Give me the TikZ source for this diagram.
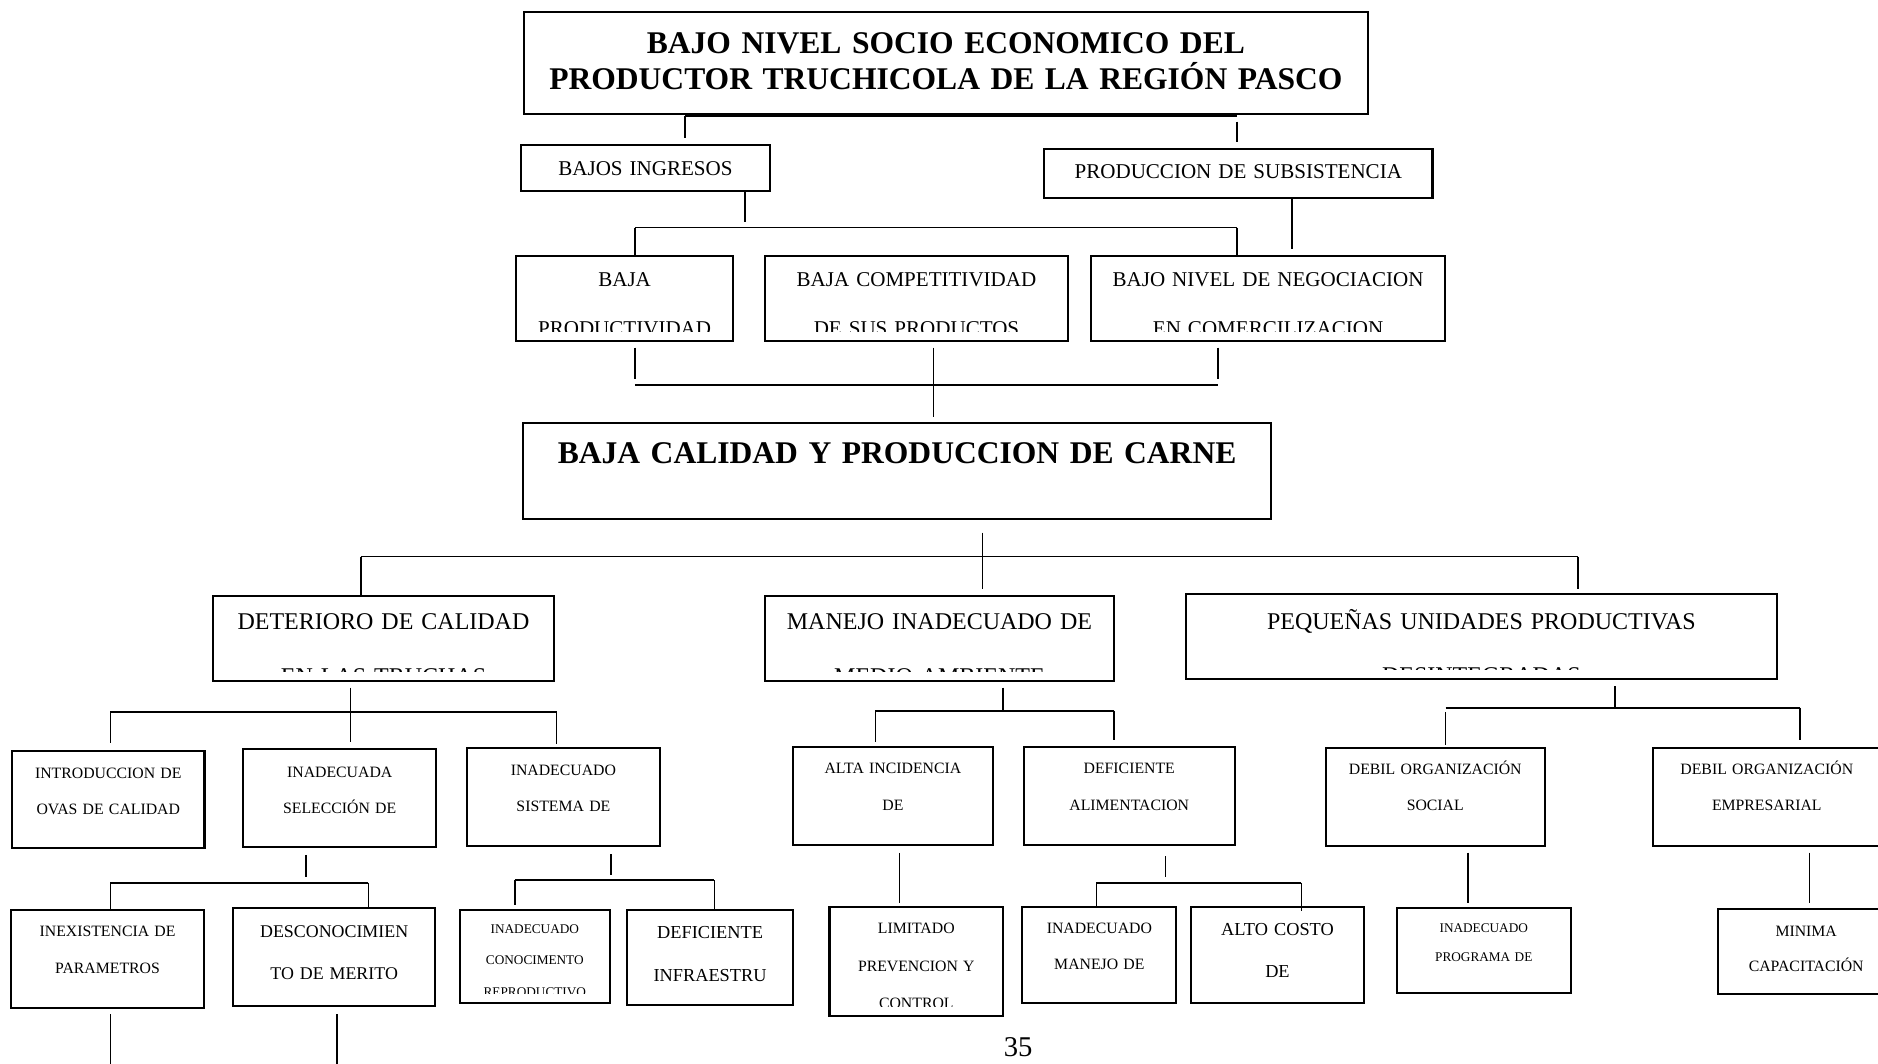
\documentclass[tikz,border=0pt]{standalone}
\usepackage{fontspec}
\setmainfont{Liberation Serif}
\usetikzlibrary{fit,calc}

\begin{document}
\begin{tikzpicture}
[x=0.02cm,y=-0.02cm,%
  cbox/.style n args={3}{draw,line width=1pt,inner sep=0pt,%
    path picture={%
      \clip ([yshift=4.5pt]path picture bounding box.south west)
        rectangle (path picture bounding box.north east);
      \node[anchor=base,inner sep=0pt,text width=20cm,align=center,font=#1\selectfont]
        at ($(path picture bounding box.north)+(0,#2)$) {#3};
    }},%
  conn/.style={line width=0.75pt}]
\useasboundingbox (0,0) rectangle (1568,888);

% effects
\node[cbox={\fontsize{15}{17.1}\bfseries}{34.8}{BAJO NIVEL SOCIO ECONOMICO DEL\\PRODUCTOR TRUCHICOLA DE LA REGIÓN PASCO},
  fit={(437.5,9.7)(1142,95.2)}] (top) {};
\node[cbox={\fontsize{10}{12}}{25.8}{BAJOS INGRESOS}, fit={(435.2,121.1)(642.7,159.2)}] (ingresos) {};
\node[cbox={\fontsize{10}{12}}{24.5}{PRODUCCION DE SUBSISTENCIA}, fit={(871.8,124.4)(1196,165)}] (subsist) {};
\node[cbox={\fontsize{10}{23.2}}{25.7}{BAJA\\PRODUCTIVIDAD}, fit={(430.9,213.7)(612.1,284.7)}] (product) {};
\node[cbox={\fontsize{10}{23.2}}{25.7}{BAJA COMPETITIVIDAD\\DE SUS PRODUCTOS}, fit={(638.4,213.7)(892,284.7)}] (compet) {};
\node[cbox={\fontsize{10}{23.2}}{25.7}{BAJO NIVEL DE NEGOCIACION\\EN COMERCILIZACION}, fit={(911,213.7)(1206.5,284.7)}] (negoc) {};

% central problem
\node[cbox={\fontsize{15}{18}\bfseries}{33.4}{BAJA CALIDAD Y PRODUCCION DE CARNE}, fit={(436.8,353.5)(1061.3,433.6)}] (calidad) {};

% causes
\node[cbox={\fontsize{11.4}{26.1}}{28.1}{DETERIORO DE CALIDAD\\EN LAS TRUCHAS}, fit={(178.2,497.4)(462.2,568.3)}] (deterioro) {};
\node[cbox={\fontsize{11.4}{26.1}}{27.9}{MANEJO INADECUADO DE\\MEDIO AMBIENTE}, fit={(639,497.6)(929.8,568.3)}] (manejo) {};
\node[cbox={\fontsize{11.4}{25.5}}{29.5}{PEQUEÑAS UNIDADES PRODUCTIVAS\\DESINTEGRADAS}, fit={(990,496)(1483.7,567.2)}] (pequenas) {};

\node[cbox={\fontsize{7.5}{17}}{23.1}{INTRODUCCION DE\\OVAS DE CALIDAD}, fit={(10.1,626.8)(170.7,708.3)}] (ovas) {};
\node[cbox={\fontsize{7.5}{17}}{23.4}{INADECUADA\\SELECCIÓN DE}, fit={(203.1,625.6)(364.2,707.5)}] (seleccion) {};
\node[cbox={\fontsize{7.5}{17.5}}{22.9}{INADECUADO\\SISTEMA DE}, fit={(389.9,624.2)(550.9,706.4)}] (sistema) {};
\node[cbox={\fontsize{7.5}{17.4}}{22.2}{ALTA INCIDENCIA\\DE}, fit={(662,624)(829,705.5)}] (incidencia) {};
\node[cbox={\fontsize{7.5}{17.4}}{22.2}{DEFICIENTE\\ALIMENTACION}, fit={(854.7,624)(1031,705.5)}] (aliment) {};
\node[cbox={\fontsize{7.5}{17.2}}{22.2}{DEBIL ORGANIZACIÓN\\SOCIAL}, fit={(1107,624.3)(1289.7,706.1)}] (social) {};
\node[cbox={\fontsize{7.5}{17.2}}{22.2}{DEBIL ORGANIZACIÓN\\EMPRESARIAL}, fit={(1380.3,624.3)(1570,706.1)}] (empres) {};

\node[cbox={\fontsize{7.5}{17.7}}{21.7}{INEXISTENCIA DE\\PARAMETROS}, fit={(9.3,759.8)(170.3,841.4)}] (param) {};
\node[cbox={\fontsize{8.5}{20.2}}{24.2}{DESCONOCIMIEN\\TO DE MERITO}, fit={(194.6,758.4)(363.4,840)}] (merito) {};
\node[cbox={\fontsize{6.3}{15}}{19.5}{INADECUADO\\CONOCIMENTO\\REPRODUCTIVO}, fit={(383.9,759.8)(509.2,837.2)}] (conoc) {};
\node[cbox={\fontsize{8.7}{20.5}}{23.6}{DEFICIENTE\\INFRAESTRU}, fit={(523.7,759.8)(662,839.2)}] (infra) {};
\node[cbox={\fontsize{7.5}{17.6}}{22.2}{LIMITADO\\PREVENCION Y\\CONTROL}, fit={(692.6,757.6)(837.5,848.3)}] (control) {};
\node[cbox={\fontsize{7.5}{17.1}}{22.2}{INADECUADO\\MANEJO DE}, fit={(853.6,757.6)(982.2,837.2)}] (manejoal) {};
\node[cbox={\fontsize{8.7}{20.2}}{23.1}{ALTO COSTO\\DE}, fit={(994.1,757.6)(1139.1,837.2)}] (costo) {};
\node[cbox={\fontsize{6.3}{14}}{20}{INADECUADO\\PROGRAMA DE}, fit={(1166.1,758.4)(1311.6,829.4)}] (programa) {};
\node[cbox={\fontsize{7.5}{16.9}}{22.3}{MINIMA\\CAPACITACIÓN}, fit={(1434.1,759.2)(1582,830.2)}] (capacit) {};

% connectors, effects
\coordinate (j1l) at (571.8,97); \coordinate (j1r) at (1033,97);
\draw[conn] (top.south) -- (top.south |- j1l);
\draw[conn] (j1l) -- (j1r);
\draw[conn,shorten >=2.7pt] (j1l) -- (j1l |- ingresos.north);
\draw[conn,shorten <=2.6pt,shorten >=2.6pt] (j1r) -- (j1r |- subsist.north);
\coordinate (j2l) at (530.1,190.1); \coordinate (j2r) at (1032.9,190.1); \coordinate (j2m) at (622,190.1);
\draw[conn,shorten >=2.8pt] (j2m |- ingresos.south) -- (j2m);
\draw[conn] (j2l) -- (j2r);
\draw[conn] (j2l) -- (j2l |- product.north);
\draw[conn] (j2r) -- (j2r |- negoc.north);
\coordinate (j3) at (1078.9,165);
\draw[conn,shorten >=2.8pt] (j3 |- subsist.south) -- (j3 |- negoc.north);
\coordinate (j4l) at (530.1,321.4); \coordinate (j4r) at (1017.1,321.4); \coordinate (j4m) at (779.3,321.4);
\draw[conn] (j4l) -- (j4r);
\draw[conn,shorten <=2.7pt,shorten >=2.6pt] (j4l |- product.south) -- (j4l);
\draw[conn,shorten <=2.7pt,shorten >=2.6pt] (j4r |- negoc.south) -- (j4r);
\draw[conn,shorten <=2.7pt,shorten >=2.4pt] (j4m |- compet.south) -- (j4m |- calidad.north);

% connectors, causes
\coordinate (j5l) at (301.2,464.8); \coordinate (j5r) at (1317.5,464.8); \coordinate (j5m) at (820.4,464.8);
\draw[conn] (j5l) -- (j5r);
\draw[conn,shorten <=5.8pt,shorten >=2.8pt] (j5m |- calidad.south) -- (j5m |- manejo.north);
\draw[conn] (j5l) -- (j5l |- deterioro.north);
\draw[conn,shorten >=1.7pt] (j5r) -- (j5r |- pequenas.north);

\coordinate (j6l) at (92.1,594.7); \coordinate (j6r) at (464.8,594.7); \coordinate (j6m) at (292.6,594.7);
\draw[conn] (j6l) -- (j6r);
\draw[conn,shorten <=2.8pt,shorten >=2.8pt] (j6m |- deterioro.south) -- (j6m |- seleccion.north);
\draw[conn,shorten >=3pt] (j6l) -- (j6l |- ovas.north);
\draw[conn,shorten >=1.2pt] (j6r) -- (j6r |- sistema.north);
\coordinate (j7l) at (92.1,737); \coordinate (j7r) at (307.5,737); \coordinate (j7m) at (255.7,737);
\draw[conn] (j7l) -- (j7r);
\draw[conn,shorten <=3.1pt,shorten >=2.8pt] (j7m |- seleccion.south) -- (j7m);
\draw[conn] (j7l) -- (j7l |- param.north);
\draw[conn] (j7r) -- (j7r |- merito.north);
\coordinate (d1) at (92.1,900); \coordinate (d2) at (281.4,900);
\draw[conn,shorten <=2.6pt] (d1 |- param.south) -- (d1);
\draw[conn,shorten <=3.4pt] (d2 |- merito.south) -- (d2);
\coordinate (j8l) at (429.8,734.8); \coordinate (j8r) at (596.4,734.8); \coordinate (j8m) at (509.9,734.8);
\draw[conn] (j8l) -- (j8r);
\draw[conn,shorten <=3.4pt,shorten >=2.3pt] (j8m |- sistema.south) -- (j8m);
\draw[conn,shorten >=1.9pt] (j8l) -- (j8l |- conoc.north);
\draw[conn] (j8r) -- (j8r |- infra.north);

\coordinate (j9l) at (730.9,593.4); \coordinate (j9r) at (930,593.4); \coordinate (j9m) at (837.5,593.4);
\draw[conn] (j9l) -- (j9r);
\draw[conn,shorten <=2.8pt] (j9m |- manejo.south) -- (j9m);
\draw[conn,shorten >=2.2pt] (j9l) -- (j9l |- incidencia.north);
\draw[conn,shorten >=2.9pt] (j9r) -- (j9r |- aliment.north);
\coordinate (j10) at (751.1,730);
\draw[conn,shorten <=3.2pt,shorten >=1.6pt] (j10 |- incidencia.south) -- (j10 |- control.north);
\coordinate (j11l) at (915.4,737); \coordinate (j11r) at (1086.5,737); \coordinate (j11m) at (973.2,737);
\draw[conn] (j11l) -- (j11r);
\draw[conn,shorten <=4.8pt,shorten >=2.6pt] (j11m |- aliment.south) -- (j11m);
\draw[conn] (j11l) -- (j11l |- manejoal.north);
\draw[conn] (j11r) -- ([yshift=-2pt]j11r |- costo.north);

\coordinate (j12l) at (1207,590.9); \coordinate (j12r) at (1503,590.9); \coordinate (j12m) at (1348.6,590.9);
\draw[conn] (j12l) -- (j12r);
\draw[conn,shorten <=2.7pt] (j12m |- pequenas.south) -- (j12m);
\draw[conn,shorten <=2.2pt,shorten >=1pt] (j12l) -- (j12l |- social.north);
\draw[conn,shorten >=3.2pt] (j12r) -- (j12r |- empres.north);
\coordinate (j13) at (1225.5,730);
\draw[conn,shorten <=2.8pt,shorten >=2pt] (j13 |- social.south) -- (j13 |- programa.north);
\coordinate (j14) at (1510.8,730);
\draw[conn,shorten <=2.8pt,shorten >=2.5pt] (j14 |- empres.south) -- (j14 |- capacit.north);

\node[anchor=base,inner sep=0pt,font=\fontsize{13.6}{16}\selectfont] (pagenum) at (850,881.7) {35};
\end{tikzpicture}
\end{document}
